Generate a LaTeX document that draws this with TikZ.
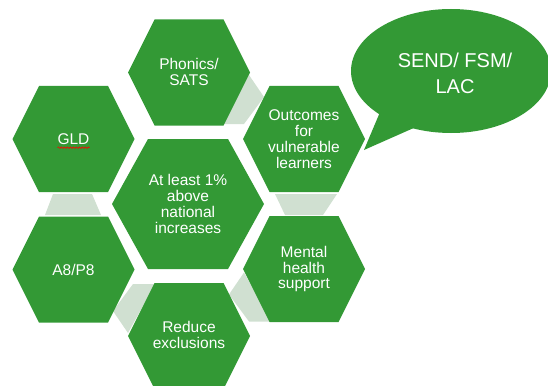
\documentclass[tikz,border=0pt]{standalone}
\usepackage{fontspec}
\setmainfont{Liberation Sans}
\usetikzlibrary{decorations.pathmorphing}
\definecolor{hexgreen}{RGB}{51,153,53}
\definecolor{linkgreen}{RGB}{208,224,209}
\tikzset{
  smallhex/.pic={\fill[hexgreen] (-61,0) -- (-34.5,-53) -- (34.5,-53) -- (61,0) -- (34.5,53) -- (-34.5,53) -- cycle;},
  bighex/.pic={\fill[hexgreen] (-76,0) -- (-40,-65) -- (40,-65) -- (76,0) -- (40,65) -- (-40,65) -- cycle;},
  linkband/.style={fill=linkgreen},
  hexlabel/.style={text=white, align=center, inner sep=0pt, font=\fontsize{15.5}{15.8}\selectfont},
  bubblelabel/.style={text=white, align=center, inner sep=0pt, font=\fontsize{20}{26}\selectfont},
  spellmark/.style={draw=red, line width=0.6pt, decorate, decoration={snake, segment length=3pt, amplitude=0.8pt}}
}
\begin{document}
\begin{tikzpicture}[x=1pt,y=-1pt]
\useasboundingbox (0,0) rectangle (548,385);
\clip (0,0) rectangle (548,385);

% light bands joining neighbouring cells
\fill[linkband] (249,75) -- (264,97) -- (244,124) -- (222,124) -- cycle;
\fill[linkband] (275,194) -- (337,194) -- (323,215) -- (285,215) -- cycle;
\fill[linkband] (244,272.5) -- (229,294.5) -- (249,321.5) -- (271,321.5) -- cycle;
\fill[linkband] (128,333) -- (113,311) -- (133,284) -- (155,284) -- cycle;
\fill[linkband] (53,194) -- (92,194) -- (101,215) -- (45,215) -- cycle;

% hexagonal cells
\pic at (189,72.5) {smallhex};
\pic at (73.5,139) {smallhex};
\pic at (304,139) {smallhex};
\pic at (188,204) {bighex};
\pic at (73.5,269.5) {smallhex};
\pic at (304,269) {smallhex};
\pic at (189,336) {smallhex};

\node[hexlabel] (phonics) at (189,72) {Phonics/\\SATS};
\node[hexlabel] (gld) at (73.5,139) {GLD};
\node[hexlabel] (outcomes) at (304,139) {Outcomes\\for\\vulnerable\\learners};
\node[hexlabel] (target) at (188,204) {At least 1\%\\above\\national\\increases};
\node[hexlabel] (a8p8) at (73.5,269.5) {A8/P8};
\node[hexlabel] (mental) at (304,269) {Mental\\health\\support};
\node[hexlabel] (reduce) at (189,335) {Reduce\\exclusions};

% spelling underline beneath GLD
\coordinate (sqA) at ([xshift=-16pt,yshift=-3pt]gld.south);
\coordinate (sqB) at ([xshift=16pt,yshift=-3pt]gld.south);
\draw[spellmark] (sqA) -- (sqB);

% speech bubble
\fill[hexgreen] (451,71) ellipse (100 and 62);
\fill[hexgreen] (364,150) -- (383,105) -- (425,123) -- cycle;
\node[bubblelabel] (groups) at (455,73) {SEND/ FSM/\\LAC};
\end{tikzpicture}
\end{document}
